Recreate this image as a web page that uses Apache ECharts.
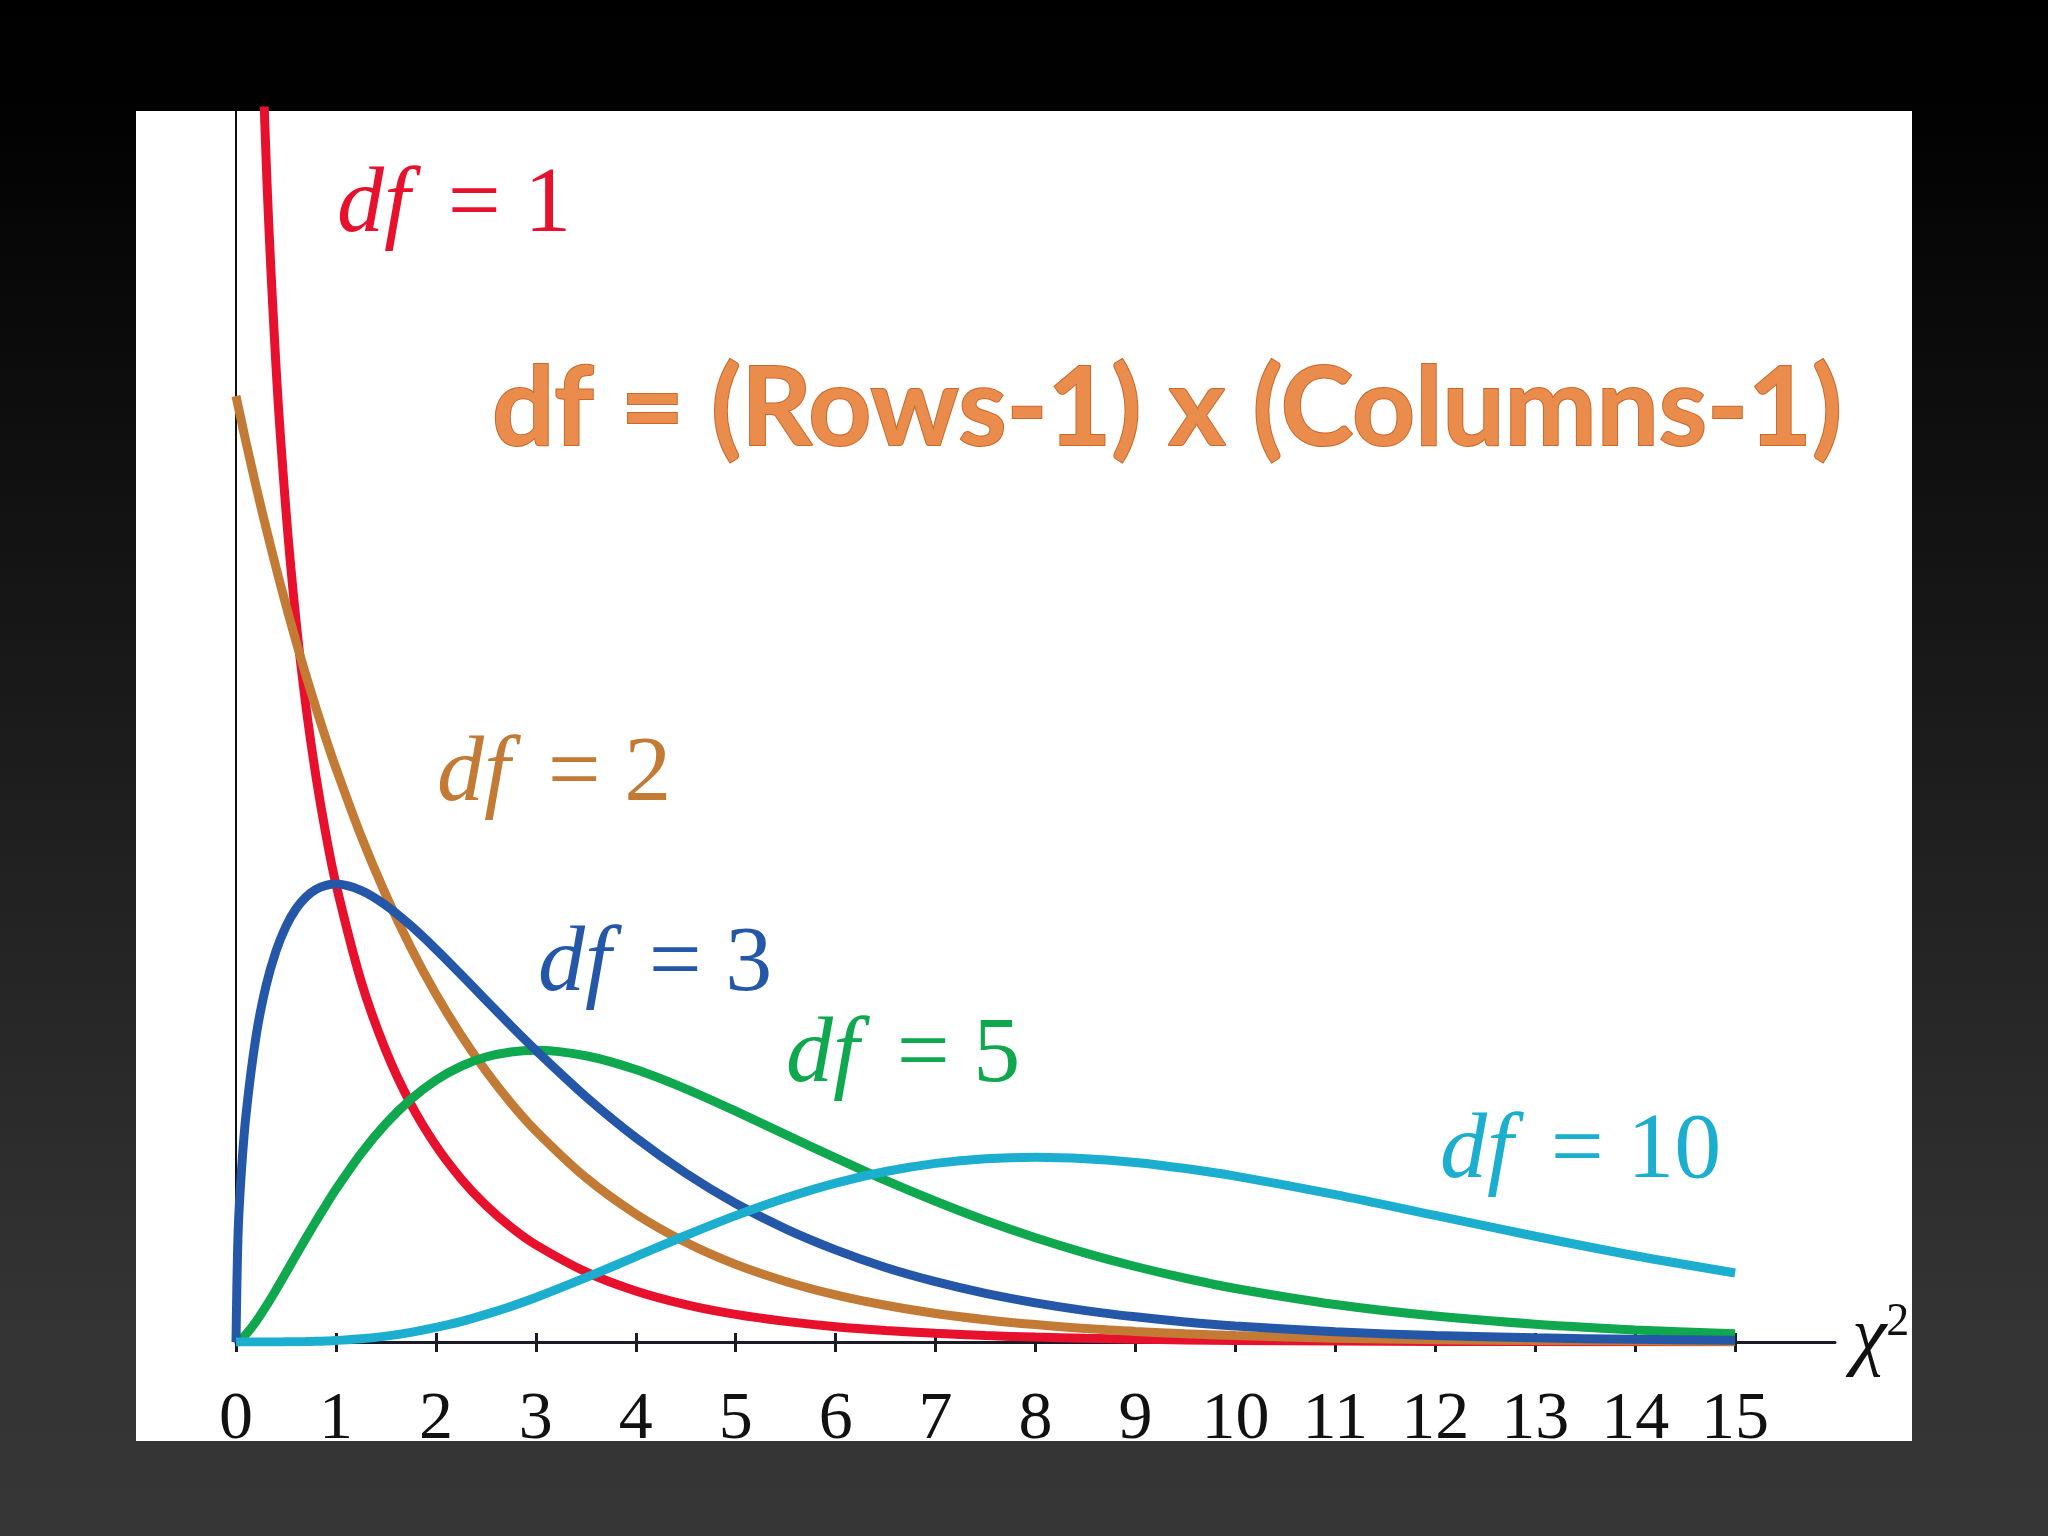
<!DOCTYPE html>
<html>
<head>
<meta charset="utf-8">
<script src="https://cdn.jsdelivr.net/npm/echarts@6/dist/echarts.min.js"></script>
<style>
  html, body { margin: 0; padding: 0; background: #000; }
  #chart { width: 2048px; height: 1536px; }
</style>
</head>
<body>
<div id="chart"></div>
<script>
// chi-square values
var xs = [0, 0.02, 0.05, 0.1, 0.2, 0.3, 0.4, 0.5, 0.6, 0.7, 0.8, 0.9, 1, 1.25, 1.5, 1.75, 2, 2.25, 2.5, 2.75, 3,
  3.5, 4, 4.5, 5, 5.5, 6, 6.5, 7, 7.5, 8, 8.5, 9, 9.5, 10, 11, 12, 13, 14, 15];

var df1 = ['-', '-', 1.740, 1.200, 0.807, 0.627, 0.516, 0.4394, 0.3815, 0.3360, 0.2990, 0.2681, 0.2420, 0.1910,
  0.1539, 0.1257, 0.1038, 0.0864, 0.0723, 0.0608, 0.0514, 0.0371, 0.0270, 0.0198, 0.0146, 0.0109, 0.0081,
  0.0061, 0.0046, 0.0034, 0.0026, 0.0020, 0.0015, 0.0011, 0.0008, 0.0005, 0.0003, 0.0002, 0.0001, 0.0001];
var df2 = [0.5, 0.495, 0.4877, 0.4756, 0.4524, 0.4304, 0.4094, 0.3894, 0.3704, 0.3523, 0.3352, 0.3188, 0.3033,
  0.2676, 0.2362, 0.2084, 0.1839, 0.1623, 0.1433, 0.1264, 0.1116, 0.0869, 0.0677, 0.0527, 0.0410, 0.0320,
  0.0249, 0.0194, 0.0151, 0.0118, 0.0092, 0.0071, 0.0056, 0.0043, 0.0034, 0.0020, 0.0012, 0.0008, 0.0005, 0.0003];
var df3 = [0, 0.0559, 0.0870, 0.120, 0.1614, 0.1881, 0.2066, 0.2197, 0.2289, 0.2352, 0.2392, 0.2413, 0.2420,
  0.2387, 0.2308, 0.2200, 0.2076, 0.1943, 0.1807, 0.1672, 0.1542, 0.1297, 0.1080, 0.0892, 0.0732, 0.0598,
  0.0487, 0.0394, 0.0319, 0.0257, 0.0207, 0.0166, 0.0133, 0.0106, 0.0085, 0.0054, 0.0034, 0.0022, 0.0014, 0.0009];
var df5 = [0, 0.0004, 0.0015, 0.0040, 0.0108, 0.0188, 0.0275, 0.0366, 0.0458, 0.0549, 0.0638, 0.0724, 0.0807,
  0.0995, 0.1154, 0.1283, 0.1384, 0.1457, 0.1506, 0.1533, 0.1542, 0.1513, 0.1440, 0.1338, 0.1220, 0.1096,
  0.0973, 0.0854, 0.0744, 0.0642, 0.0551, 0.0470, 0.0399, 0.0337, 0.0283, 0.0198, 0.0137, 0.0094, 0.0064, 0.0043];
var df10 = [0, 0, 0, 0, 0, 0, 0, 0.0001, 0.0001, 0.0002, 0.0004, 0.0005, 0.0008, 0.0017, 0.0031, 0.0051, 0.0077,
  0.0108, 0.0146, 0.0188, 0.0235, 0.0340, 0.0451, 0.0563, 0.0668, 0.0761, 0.0840, 0.0901, 0.0944, 0.0969,
  0.0977, 0.0969, 0.0949, 0.0917, 0.0877, 0.0779, 0.0669, 0.0559, 0.0456, 0.0365];

var tickLabels = [0, 1, 2, 3, 4, 5, 6, 7, 8, 9, 10, 11, 12, 13, 14, 15];

function pairs(ys) {
  return xs.map(function (x, i) { return [x, ys[i]]; });
}

var serif = '"Liberation Serif", "DejaVu Serif", serif';

function curve(name, ys, color) {
  return {
    name: name,
    type: 'line',
    data: pairs(ys),
    smooth: 0.3,
    showSymbol: false,
    clip: true,
    lineStyle: { color: color, width: 9 },
    emphasis: { disabled: true }
  };
}

function dfLabel(x, y, num, color) {
  return {
    type: 'text',
    left: x,
    top: y,
    z: 10,
    style: {
      text: '{i|df}{n|\u2009\u2009= ' + num + '}',
      fill: color,
      rich: {
        i: { fontFamily: serif, fontStyle: 'italic', fontSize: 94, fill: color },
        n: { fontFamily: serif, fontSize: 94, fill: color }
      }
    }
  };
}

var chart = echarts.init(document.getElementById('chart'));

chart.setOption({
  backgroundColor: {
    type: 'linear', x: 0, y: 0, x2: 0, y2: 1,
    colorStops: [
      { offset: 0, color: '#000000' },
      { offset: 0.08, color: '#020202' },
      { offset: 0.85, color: '#333333' },
      { offset: 1, color: '#363636' }
    ]
  },
  animation: false,
  grid: { left: 236, right: 213, top: 111, height: 1231 },
  xAxis: [{
    type: 'value',
    min: 0,
    max: 16,
    interval: 1,
    position: 'bottom',
    axisLine: { show: true, onZero: false, lineStyle: { color: '#1b1b28', width: 3 } },
    axisTick: { show: true, length: 10, customValues: tickLabels, lineStyle: { color: '#1b1b28', width: 3 } },
    axisLabel: {
      customValues: tickLabels,
      margin: 78,
      verticalAlign: 'middle',
      fontFamily: serif,
      fontSize: 68,
      color: '#111111'
    },
    splitLine: { show: false }
  }, {
    type: 'value',
    min: 0,
    max: 16,
    interval: 1,
    position: 'bottom',
    offset: 0,
    axisLine: { show: false },
    axisTick: { show: true, inside: true, length: 9, customValues: tickLabels, lineStyle: { color: '#1b1b28', width: 3 } },
    axisLabel: { show: false },
    splitLine: { show: false }
  }],
  yAxis: {
    type: 'value',
    min: 0,
    max: 0.6506,
    axisLine: { show: true, onZero: false, lineStyle: { color: '#111111', width: 2 } },
    axisTick: { show: false },
    axisLabel: { show: false },
    splitLine: { show: false }
  },
  series: [
    curve('df = 1', df1, '#E8112D'),
    curve('df = 2', df2, '#C27A35'),
    curve('df = 5', df5, '#10A84E'),
    curve('df = 3', df3, '#2557A8'),
    curve('df = 10', df10, '#1BAECF')
  ],
  graphic: [
    {
      type: 'rect',
      z: -10,
      shape: { x: 136, y: 111, width: 1776, height: 1330 },
      style: { fill: '#ffffff' }
    },
    dfLabel(337, 159, 1, '#E8112D'),
    dfLabel(437, 728, 2, '#C27A35'),
    dfLabel(538, 918, 3, '#2557A8'),
    dfLabel(786, 1009, 5, '#10A84E'),
    dfLabel(1440, 1105, 10, '#1BAECF'),
    {
      type: 'text',
      left: 1852,
      top: 1300,
      z: 10,
      style: {
        text: '{c|\u03C7}{s|2}',
        rich: {
          c: { fontFamily: serif, fontStyle: 'italic', fontSize: 78, fill: '#111111' },
          s: { fontFamily: serif, fontSize: 46, fill: '#111111', verticalAlign: 'top', padding: [0, 0, 30, 0] }
        }
      }
    },
    {
      type: 'text',
      x: 1167,
      y: 410,
      z: 10,
      style: {
        text: 'df = (Rows-1) x (Columns-1)',
        fontFamily: 'Lato, "Open Sans", sans-serif',
        fontWeight: 'bold',
        fontSize: 110,
        align: 'center',
        verticalAlign: 'middle',
        fill: '#EA8C4C',
        stroke: '#C8682C',
        lineWidth: 2,
        shadowColor: 'rgba(0,0,0,0.45)',
        shadowBlur: 8,
        shadowOffsetX: 3,
        shadowOffsetY: 7
      }
    }
  ]
});
</script>
</body>
</html>
